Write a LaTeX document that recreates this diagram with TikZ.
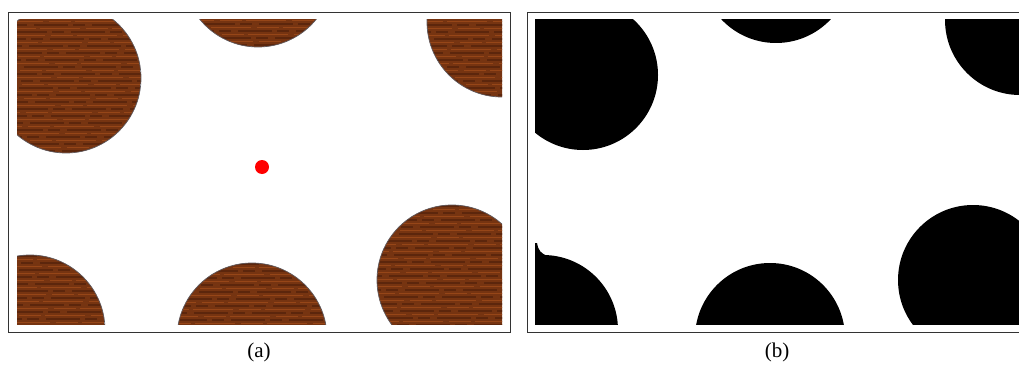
\documentclass[tikz,border=0pt]{standalone}
\usepackage{fontspec}
\setmainfont{Liberation Serif}
\begin{document}
\begin{tikzpicture}[x=1pt,y=-1pt]
	% Styles (MODIFIABLES)
	\tikzstyle{cadre}=[draw=black!80,line width=0.9pt]
	\tikzstyle{fondbois}=[fill={rgb,255:red,118;green,52;blue,17}]
	\tikzstyle{veinesombre}=[draw={rgb,255:red,92;green,38;blue,12},line width=1.3pt,dash pattern=on 34pt off 5pt on 12pt off 7pt]
	\tikzstyle{veineclaire}=[draw={rgb,255:red,150;green,70;blue,24},line width=1pt,dash pattern=on 40pt off 6pt on 22pt off 4pt]
	\tikzstyle{bordbois}=[draw={rgb,255:red,95;green,90;blue,95},line width=0.7pt]
	\tikzstyle{disque}=[fill=black]
	\tikzstyle{cible}=[circle,fill=red,inner sep=0pt,minimum size=14pt]
	\tikzstyle{legende}=[font=\fontsize{21}{23}\selectfont]
	% Dimensions (MODIFIABLES)
	\def\Rayon{75}
	\useasboundingbox (0,0) rectangle (1019,369);
	% Cadres
	\draw[cadre] (8,12) rectangle (510,332);
	\draw[cadre] (1019,12) -- (527,12) -- (527,332) -- (1019,332);
	% (a) : disques en bois
	\begin{scope}
		\clip (17,20) rectangle (502,324);
		\foreach \cx/\cy in {66/78,258/-28,502/22,30/330,252/338,452/280}{
			\begin{scope}
				\clip (\cx,\cy) circle (\Rayon pt);
				\fill[fondbois] (\cx-\Rayon,\cy-\Rayon) rectangle (\cx+\Rayon,\cy+\Rayon);
				\foreach \k in {-74,-67,...,74}{
					\draw[veinesombre,dash phase=\k*3pt] (\cx-\Rayon,\cy+\k) -- (\cx+\Rayon,\cy+\k);
					\draw[veineclaire,dash phase=\k*5pt] (\cx-\Rayon,\cy+\k+3.5) -- (\cx+\Rayon,\cy+\k+3.5);
				}
			\end{scope}
			\draw[bordbois] (\cx,\cy) circle (\Rayon pt);
		}
	\end{scope}
	\node[cible] (point) at (262,167) {};
	% (b) : masque
	\begin{scope}
		\clip (535,20) rectangle (1019,324);
		\foreach \cx/\cy in {583/75,776/-32,1020/20,543/330,770/338,973/280}{
			\fill[disque] (\cx,\cy) circle (\Rayon pt);
		}
		\fill[disque] (535,243) -- (537,243) .. controls (538,250) and (541,254) .. (548,256) -- (535,258) -- cycle;
	\end{scope}
	% Legendes
	\node[legende] (legA) at (259,352) {(a)};
	\node[legende] (legB) at (777,352) {(b)};
\end{tikzpicture}
\end{document}
